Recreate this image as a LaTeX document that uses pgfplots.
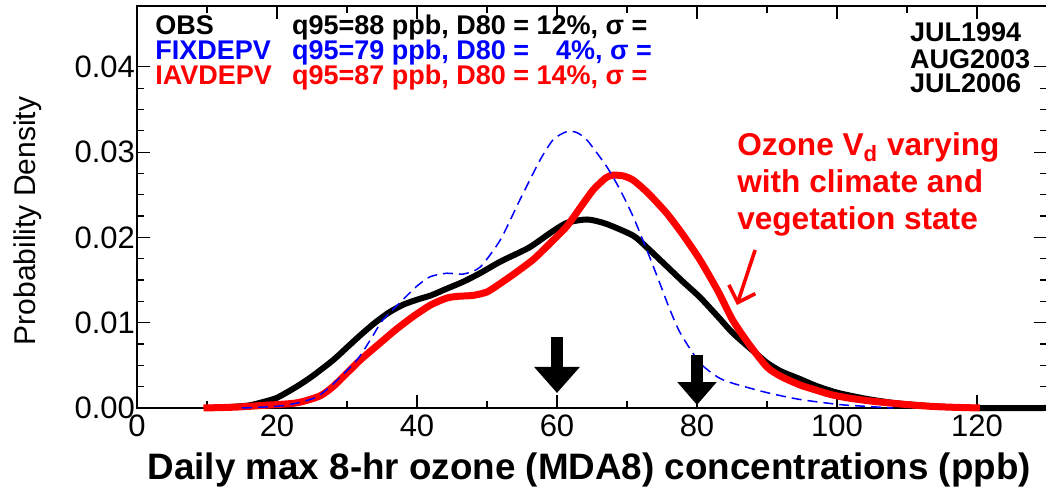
\documentclass[border=0pt]{standalone}
\usepackage{fontspec}
\setmainfont{Liberation Sans}
\usepackage{pgfplots}
\pgfplotsset{compat=1.18}
\usetikzlibrary{arrows.meta}

\begin{document}
\begin{tikzpicture}
\useasboundingbox (-68.5pt,-47pt) rectangle (454.5pt,204pt);
\begin{axis}[
  scale only axis, width=455pt, height=201pt,
  xmin=0, xmax=130, ymin=0, ymax=0.04713,
  xtick={0,20,40,60,80,100,120}, minor x tick num=1,
  ytick={0,0.01,0.02,0.03,0.04}, minor y tick num=3,
  scaled y ticks=false,
  yticklabel style={xshift=2.5pt, /pgf/number format/.cd, fixed, fixed zerofill, precision=2, assume math mode=true},
  xticklabel style={/pgf/number format/assume math mode=true},
  tick label style={font=\fontsize{15.5}{18}\selectfont},
  tick align=inside, major tick length=6.5pt, minor tick length=3.5pt,
  axis line style={line width=0.8pt}, tick style={line width=0.6pt, black},
  xlabel={\bfseries Daily max 8-hr ozone (MDA8) concentrations (ppb)},
  xlabel style={font=\fontsize{18.4}{22}\selectfont, at={(axis description cs:0.497,-0.154)}, anchor=center},
  ylabel={Probability Density},
  ylabel style={font=\fontsize{15}{18}\selectfont, at={(axis description cs:-0.1198,0.465)}, anchor=center},
  clip=false,
]
% OBS
\addplot[black, line width=3pt, smooth, tension=0.4] coordinates {
 (10,0) (13,0.0001) (16,0.0003) (18,0.0007) (20,0.0012) (22.8,0.0025)
 (25,0.0037) (28,0.0056) (30,0.0071) (32,0.0086) (34,0.0100)
 (36,0.0112) (38,0.0121) (40,0.0127) (42,0.0132) (44,0.0139) (46.6,0.0148)
 (49,0.0158) (52,0.0172) (56,0.0188) (59,0.0205) (61.4,0.0217)
 (64.3,0.0221) (67,0.0216) (70.9,0.0202) (73,0.0187) (75.7,0.0166)
 (78,0.0148) (80.4,0.0130) (83,0.0107) (85.1,0.0088) (88,0.0067)
 (90,0.0053) (92,0.0043) (94.7,0.0034) (97,0.0026) (100,0.0018)
 (104,0.0011) (108,0.0006) (112,0.0003) (116,0.0001) (120,0) (130,0)};
% IAVDEPV
\addplot[red, line width=3.5pt, smooth, tension=0.4] coordinates {
 (9.5,0) (14,0.0001) (18,0.0003) (22.8,0.0006) (26.1,0.0014) (28,0.0025)
 (30,0.0041) (32,0.0057) (34.7,0.0076) (37,0.0092) (39.4,0.0107)
 (42,0.0121) (44.3,0.0129) (46,0.0131) (48,0.0132) (50,0.0136)
 (51.9,0.0146) (54,0.0158) (56.6,0.0174) (59,0.0193) (61.4,0.0213)
 (63.5,0.0237) (65.2,0.0256) (67,0.0270) (68,0.0273) (69.5,0.0272)
 (70.9,0.0267) (73,0.0252) (75.7,0.0228) (78,0.0203) (80.4,0.0174)
 (83,0.0137) (85.1,0.0103) (87.5,0.0074) (90,0.0048) (92,0.0037)
 (94.7,0.0027) (96.6,0.0022) (99,0.0016) (101.4,0.0012) (104,0.0009)
 (106.1,0.0007) (110,0.0004) (113.3,0.0002) (116,0.0001) (120.4,0)};
% FIXDEPV
\addplot[blue, line width=0.75pt, dash pattern=on 5pt off 3pt, smooth, tension=0.4] coordinates {
 (15,0) (20,0.0002) (23,0.0006) (25.7,0.0013) (28,0.0028) (31.4,0.0056)
 (33.5,0.0082) (35.1,0.0103) (38,0.0127) (40,0.0143) (41.9,0.0154)
 (44.3,0.0158) (46.6,0.0157) (49,0.0165) (51.9,0.0197) (54.7,0.0244)
 (57.6,0.0291) (59.5,0.0315) (61.4,0.0324) (62.8,0.0323) (64.3,0.0314)
 (67.1,0.0283) (69,0.0256) (70.9,0.0224) (72.8,0.0186) (74.7,0.0146)
 (76,0.0118) (77.6,0.0088) (80.4,0.0053) (83,0.0036) (85.1,0.0029)
 (90,0.0018) (94.7,0.0010) (100.4,0.0004) (104,0.0002) (108,0)};

% thresholds
\draw[black, line width=6pt, -{Triangle[width=22pt,length=13pt]}] (axis cs:60,0.00832) -- (axis cs:60,0.00176);
\draw[black, line width=6pt, -{Triangle[width=19pt,length=11.5pt]}] (axis cs:80,0.0062) -- (axis cs:80,0.00035);

% legend text
\begin{scope}[every node/.style={anchor=base west, inner sep=0pt, font=\bfseries\fontsize{13.5}{16}\selectfont}]
\node[black] at (axis cs:2.57,0.04373) {OBS};
\node[blue]  at (axis cs:2.57,0.04080) {FIXDEPV};
\node[red]   at (axis cs:2.57,0.03787) {IAVDEPV};
\node[black] at (axis cs:22.1,0.04373) {q95=88 ppb, D80 = 12\%, σ =};
\node[blue]  at (axis cs:22.1,0.04080) {q95=79 ppb, D80 = \phantom{1}\,4\%, σ =};
\node[red]   at (axis cs:22.1,0.03787) {q95=87 ppb, D80 = 14\%, σ =};
\node[black] at (axis cs:110.4,0.04291) {JUL1994};
\node[black] at (axis cs:110.4,0.03986) {AUG2003};
\node[black] at (axis cs:110.4,0.03693) {JUL2006};
\end{scope}

% annotation
\begin{scope}[every node/.style={anchor=base west, inner sep=0pt, red, font=\bfseries\fontsize{15.8}{19}\selectfont}]
\node at (axis cs:85.7,0.02966) {Ozone V\textsubscript{d} varying};
\node at (axis cs:85.7,0.02532) {with climate and};
\node at (axis cs:85.7,0.02098) {vegetation state};
\end{scope}
\draw[red, line width=1.8pt, -{Straight Barb[length=7pt,width=14pt]}] (axis cs:88.3,0.01852) -- (axis cs:85.7,0.01208);
\end{axis}
\end{tikzpicture}
\end{document}
